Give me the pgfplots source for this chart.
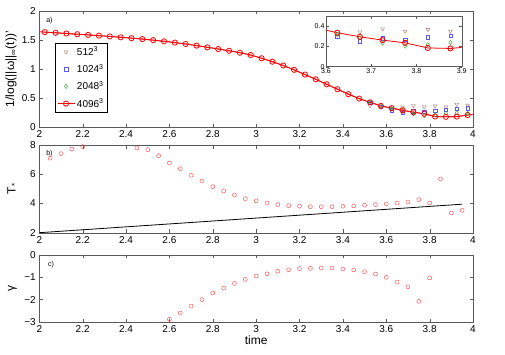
\documentclass[border=0pt]{standalone}
\usepackage{fontspec}
\setmainfont{Liberation Sans}
\usepackage{pgfplots}
\pgfplotsset{compat=1.18}
\definecolor{mred}{RGB}{255,0,0}
\definecolor{tri}{RGB}{170,120,110}
\definecolor{sq}{RGB}{90,90,240}
\definecolor{dia}{RGB}{40,160,40}
\definecolor{axc}{RGB}{90,90,90}

\pgfplotstableread{
t     w4096
2.000 1.643
2.025 1.637
2.075 1.625
2.125 1.613
2.175 1.601
2.225 1.589
2.275 1.576
2.325 1.562
2.375 1.548
2.425 1.533
2.475 1.517
2.525 1.499
2.575 1.479
2.625 1.457
2.675 1.432
2.725 1.405
2.775 1.376
2.825 1.346
2.875 1.316
2.925 1.282
2.975 1.243
3.025 1.187
3.075 1.128
3.125 1.063
3.175 0.988
3.225 0.907
3.275 0.825
3.325 0.740
3.375 0.655
3.425 0.570
3.475 0.493
3.525 0.430
3.575 0.368
3.625 0.330
3.675 0.292
3.725 0.260
3.775 0.232
3.825 0.185
3.875 0.180
3.925 0.185
3.975 0.210
4.000 0.225
}\wfour

\pgfplotstableread{
t     w512  w1024 w2048
3.525 0.370 0.420 0.430
3.575 0.345 0.355 0.368
3.625 0.330 0.297 0.320
3.675 0.344 0.253 0.285
3.725 0.373 0.280 0.233
3.775 0.350 0.267 0.203
3.825 0.367 0.290 0.217
3.875 0.350 0.307 0.240
3.925 0.395 0.325 0.250
3.975 0.380 0.330 0.240
}\wlow

\pgfplotstableread{
t    T
2.05 7.10
2.10 7.41
2.15 7.71
2.20 7.89
2.45 7.80
2.50 7.68
2.55 7.27
2.60 6.77
2.65 6.38
2.70 5.93
2.75 5.54
2.80 5.15
2.85 4.86
2.90 4.58
2.95 4.33
3.00 4.18
3.05 4.03
3.10 3.92
3.15 3.85
3.20 3.81
3.25 3.78
3.30 3.78
3.35 3.78
3.40 3.81
3.45 3.83
3.50 3.88
3.55 3.92
3.60 3.97
3.65 4.03
3.70 4.10
3.75 4.26
3.80 4.03
3.85 5.68
3.90 3.35
3.95 3.53
}\tstar

\pgfplotstableread{
t    g
2.60 -2.88
2.65 -2.60
2.70 -2.29
2.75 -2.00
2.80 -1.71
2.85 -1.49
2.90 -1.28
2.95 -1.10
3.00 -0.95
3.05 -0.85
3.10 -0.74
3.15 -0.67
3.20 -0.62
3.25 -0.61
3.30 -0.59
3.35 -0.59
3.40 -0.64
3.45 -0.68
3.50 -0.76
3.55 -0.86
3.60 -1.01
3.65 -1.22
3.70 -1.43
3.75 -2.08
3.80 -1.03
}\gam

\pgfplotsset{
  mlab/.style={
    scale only axis, width=433.7pt, anchor=south west,
    xmin=2, xmax=4, xtick={2,2.2,...,4},
    tick align=inside, major tick length=3.5pt,
    axis line style={axc}, tick style={axc},
    /pgf/number format/assume math mode=true,
    tick label style={font=\normalsize},
    every axis y label/.style={at={(axis description cs:-0.062,0.5)}, rotate=90, anchor=center, font=\large},
  },
}

\begin{document}
\begin{tikzpicture}
\useasboundingbox (0,0) rectangle (505pt,354pt);

% panel a
\begin{axis}[mlab, at={(39.3pt,226.7pt)}, height=116.3pt,
    ymin=0, ymax=2, ytick={0,0.5,1,1.5,2},
    ylabel={1/log(||ω||\textsubscript{∞}(t))'},
    every axis y label/.style={at={(axis description cs:-0.065,0.5)}, rotate=90, anchor=center, font=\large},
    legend style={at={(0.036,0.727)}, anchor=north west, draw=black, font=\normalsize,
      row sep=3.2pt, inner sep=2pt, cells={anchor=west}}]
  \addplot[only marks, tri, mark=triangle, mark size=2.2pt, mark options={rotate=180}] table[x=t,y=w512] {\wlow};
  \addlegendentry{512\textsuperscript{3}}
  \addplot[only marks, sq, mark=square, mark size=1.7pt] table[x=t,y=w1024] {\wlow};
  \addlegendentry{1024\textsuperscript{3}}
  \addplot[only marks, dia, mark=diamond, mark size=2.2pt] table[x=t,y=w2048] {\wlow};
  \addlegendentry{2048\textsuperscript{3}}
  \addplot[mred, thick, mark=o, mark size=2.6pt, skip coords between index={0}{1}, skip coords between index={41}{42}] table[x=t,y=w4096] {\wfour};
  \addlegendentry{4096\textsuperscript{3}}
  \addplot[mred, thick, forget plot] table[x=t,y=w4096] {\wfour};
  \node[anchor=north west, font=\scriptsize] at (axis description cs:0.008,0.975) {a)};
\end{axis}

% inset
\begin{axis}[scale only axis, at={(326pt,287.3pt)}, anchor=south west,
    width=135.7pt, height=50.7pt,
    xmin=3.6, xmax=3.9, ymin=0, ymax=0.5,
    xtick={3.6,3.7,3.8,3.9}, ytick={0,0.2,0.4},
    tick align=inside, major tick length=2.5pt,
    axis line style={axc}, tick style={axc},
    axis background/.style={fill=white},
    /pgf/number format/assume math mode=true,
    tick label style={font=\scriptsize},
    xticklabel style={yshift=2pt}, yticklabel style={xshift=2pt}]
  \addplot[only marks, tri, mark=triangle, mark size=2.2pt, mark options={rotate=180}] table[x=t,y=w512] {\wlow};
  \addplot[only marks, sq, mark=square, mark size=1.7pt] table[x=t,y=w1024] {\wlow};
  \addplot[only marks, dia, mark=diamond, mark size=2.2pt] table[x=t,y=w2048] {\wlow};
  \addplot[mred, thick] coordinates {(3.6,0.36)(3.625,0.335)(3.675,0.295)(3.725,0.262)(3.775,0.235)(3.825,0.185)(3.875,0.180)(3.9,0.190)};
  \addplot[mred, thick, only marks, mark=o, mark size=2.6pt] coordinates {(3.625,0.335)(3.675,0.295)(3.725,0.262)(3.775,0.235)(3.825,0.185)(3.875,0.180)};
\end{axis}

% panel b
\begin{axis}[mlab, at={(39.3pt,121.3pt)}, height=87.7pt,
    ymin=2, ymax=8, ytick={2,4,6,8},
    ylabel={T\textsubscript{*}}]
  \addplot[only marks, mred!75, mark=o, mark size=2pt] table[x=t,y=T] {\tstar};
  \addplot[black, thick] coordinates {(2,2)(3.95,3.95)};
  \node[anchor=north west, font=\scriptsize] at (axis description cs:0.008,0.975) {b)};
\end{axis}

% panel c
\begin{axis}[mlab, at={(39.3pt,32pt)}, height=67.3pt,
    ymin=-3, ymax=0, ytick={-3,-2,-1,0}, yticklabels={−3,−2,−1,0},
    ylabel={γ}, xlabel={time},
    every axis x label/.style={at={(axis description cs:0.5,-0.267)}, anchor=center, font=\large}]
  \addplot[only marks, mred!75, mark=o, mark size=2pt] table[x=t,y=g] {\gam};
  \node[anchor=north west, font=\scriptsize] at (axis description cs:0.012,0.95) {c)};
\end{axis}
\end{tikzpicture}
\end{document}
